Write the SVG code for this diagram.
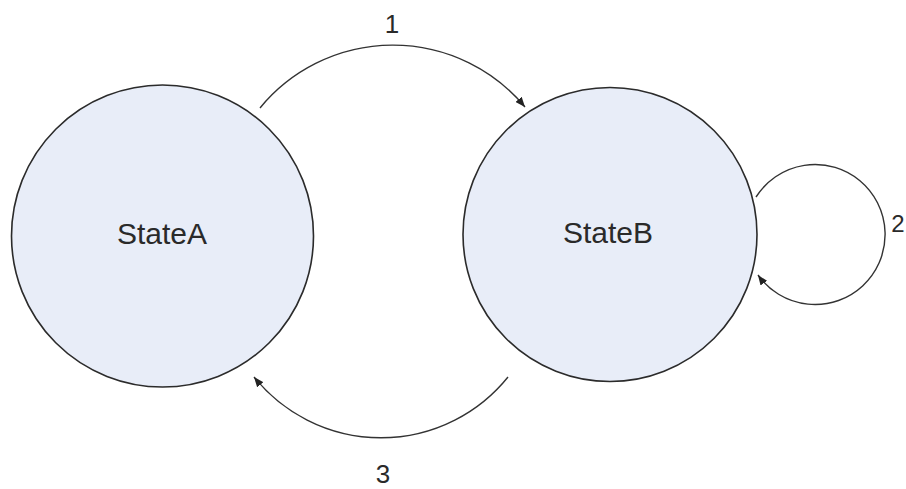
<svg xmlns="http://www.w3.org/2000/svg" width="906" height="489" viewBox="0 0 906 489">
<style>
.state{fill:#e8edf8;stroke:#2b2b2b;stroke-width:1.6}
.lbl{font-family:"Liberation Sans",Arial,sans-serif;font-size:30px;fill:#2a2a2a;text-anchor:middle}
.elbl{font-family:"Liberation Sans",Arial,sans-serif;font-size:26px;fill:#2a2a2a;text-anchor:middle}
.edge{fill:none;stroke:#333;stroke-width:1.4}
</style>
<defs>
<marker id="arr" markerUnits="userSpaceOnUse" markerWidth="10" markerHeight="8" refX="10" refY="4" orient="auto">
<path d="M0,0 L10,4 L0,8 z" fill="#222"/>
</marker>
</defs>
<rect width="906" height="489" fill="#ffffff"/>
<g id="stateA">
<circle class="state" cx="162.5" cy="236" r="151"/>
<text class="lbl" x="162" y="244">StateA</text>
</g>
<g id="stateB">
<circle class="state" cx="610" cy="234.5" r="147"/>
<text class="lbl" x="608" y="243">StateB</text>
</g>
<g id="connectors">
<path class="edge" d="M756,197 A70,70 0 1 1 758,275" marker-end="url(#arr)"/>
<path class="edge" d="M260,108 A172,172 0 0 1 525,107" marker-end="url(#arr)"/>
<path class="edge" d="M508,377 A163,163 0 0 1 254,377" marker-end="url(#arr)"/>
<text class="elbl" x="392" y="33">1</text>
<text class="elbl" x="898" y="232" style="font-size:24px">2</text>
<text class="elbl" x="383" y="483">3</text>
</g>
</svg>
